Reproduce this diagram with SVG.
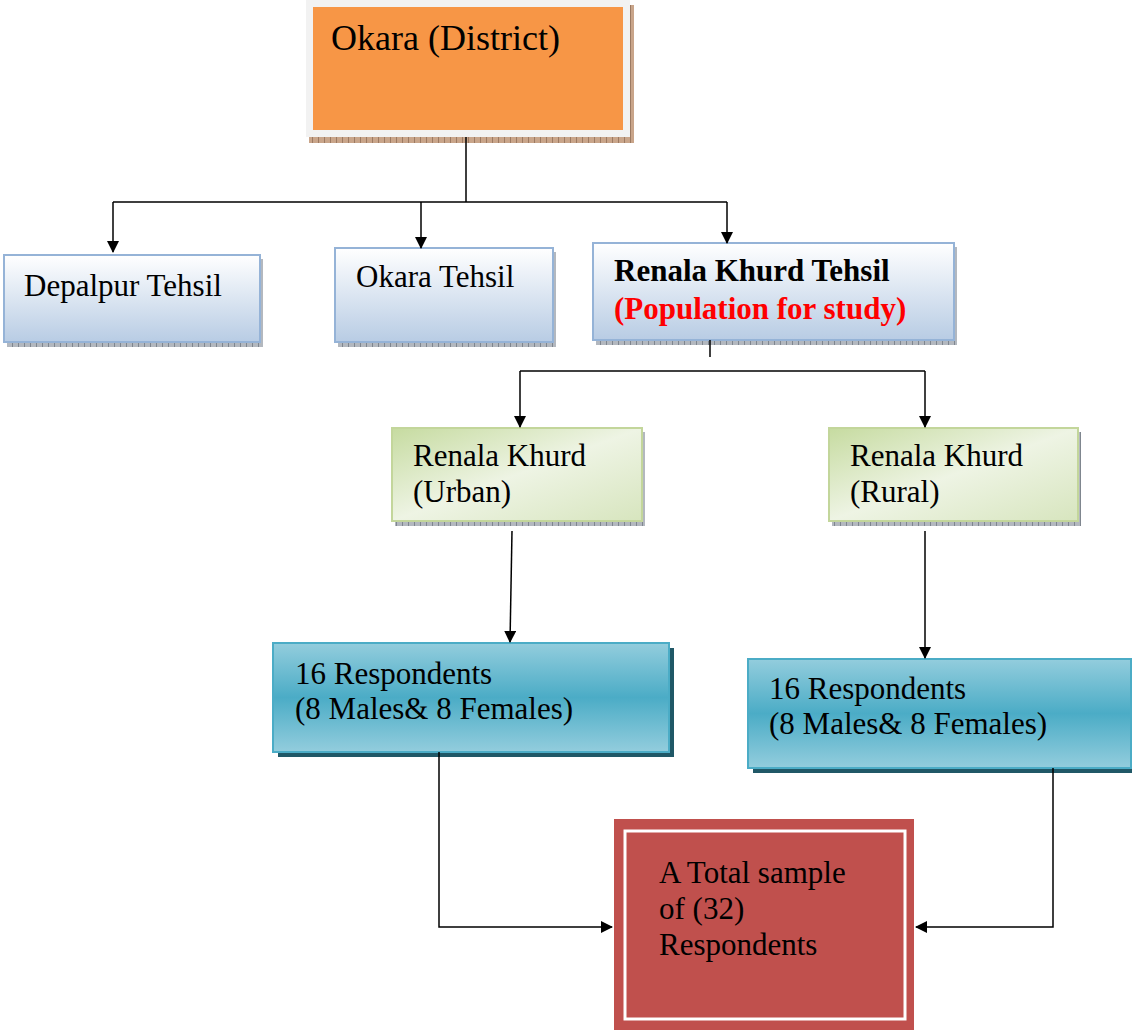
<svg xmlns="http://www.w3.org/2000/svg" width="1132" height="1032" viewBox="0 0 1132 1032">
<defs>
<linearGradient id="gBlue" x1="0" y1="0" x2="0" y2="1"><stop offset="0" stop-color="#ffffff"/><stop offset="1" stop-color="#b8cce4"/></linearGradient>
<linearGradient id="gGreen" x1="0" y1="0" x2="1" y2="1"><stop offset="0" stop-color="#c6dba0"/><stop offset="0.5" stop-color="#eef4e4"/><stop offset="1" stop-color="#d7e5be"/></linearGradient>
<linearGradient id="gTeal" x1="0" y1="0" x2="0" y2="1"><stop offset="0" stop-color="#93cddd"/><stop offset="0.5" stop-color="#4bacc6"/><stop offset="1" stop-color="#93cddd"/></linearGradient>
<pattern id="pShadow" width="6" height="6" patternUnits="userSpaceOnUse"><rect width="6" height="6" fill="#c9a58a"/><rect x="0" y="0" width="1" height="6" fill="#9c7a62"/></pattern>
<pattern id="pShadowB" width="6" height="6" patternUnits="userSpaceOnUse"><rect width="6" height="6" fill="#b3b8bf"/><rect x="0" y="0" width="1" height="6" fill="#7f868f"/></pattern>
<marker id="arr" markerWidth="12" markerHeight="12" refX="11" refY="6" orient="auto" markerUnits="userSpaceOnUse"><path d="M0,0 L12,6 L0,12 Z" fill="#000"/></marker>
</defs>
<style>
text{font-family:"Liberation Serif","Times New Roman",serif;font-size:31px;fill:#000}
.big{font-size:36px}
.b{font-weight:bold}
.red{fill:#ff0000}
.blue{fill:url(#gBlue);stroke:#95b3d7;stroke-width:2}
.green{fill:url(#gGreen);stroke:#c3d69b;stroke-width:2}
.teal{fill:url(#gTeal);stroke:#4bacc6;stroke-width:2}
.c{fill:none;stroke:#000;stroke-width:1.5}
</style>
<rect width="1132" height="1032" fill="#fff"/>
<g id="okara-district">
<rect x="309" y="5" width="325" height="138" fill="url(#pShadow)"/>
<rect x="306" y="0" width="324" height="137" fill="#f2f2f2"/>
<rect x="313" y="7" width="310" height="123" fill="#f79646"/>
<text x="331" y="50" class="big">Okara (District)</text>
</g>
<g id="depalpur">
<rect x="7" y="259" width="256" height="88" fill="url(#pShadowB)"/>
<rect x="4" y="255" width="256" height="87" class="blue"/>
<text x="24" y="296">Depalpur Tehsil</text>
</g>
<g id="okara-tehsil">
<rect x="338" y="252" width="218" height="95" fill="url(#pShadowB)"/>
<rect x="335" y="248" width="218" height="94" class="blue"/>
<text x="356" y="287">Okara Tehsil</text>
</g>
<g id="renala-tehsil">
<rect x="596" y="247" width="361" height="98" fill="url(#pShadowB)"/>
<rect x="593" y="243" width="361" height="97" class="blue"/>
<text x="614" y="281" class="b">Renala Khurd Tehsil</text>
<text x="614" y="319" class="b red">(Population for study)</text>
</g>
<g id="urban">
<rect x="395" y="432" width="250" height="94" fill="url(#pShadowB)"/>
<rect x="392" y="428" width="250" height="93" class="green"/>
<text x="413" y="466">Renala Khurd</text>
<text x="413" y="502">(Urban)</text>
</g>
<g id="rural">
<rect x="832" y="432" width="249" height="94" fill="url(#pShadowB)"/>
<rect x="829" y="428" width="249" height="93" class="green"/>
<text x="850" y="466">Renala Khurd</text>
<text x="850" y="502">(Rural)</text>
</g>
<g id="resp-urban">
<rect x="278" y="648" width="396" height="109" fill="#205867"/>
<rect x="273" y="643" width="396" height="109" class="teal"/>
<text x="295" y="684">16 Respondents</text>
<text x="295" y="719">(8 Males&amp; 8 Females)</text>
</g>
<g id="resp-rural">
<rect x="753" y="664" width="383" height="109" fill="#205867"/>
<rect x="748" y="659" width="383" height="109" class="teal"/>
<text x="769" y="699">16 Respondents</text>
<text x="769" y="734">(8 Males&amp; 8 Females)</text>
</g>
<g id="total">
<rect x="614" y="819" width="300" height="211" fill="#c0504d"/>
<rect x="625" y="831" width="280" height="188" fill="none" stroke="#fff" stroke-width="3"/>
<text x="659" y="883">A Total sample</text>
<text x="659" y="919">of (32)</text>
<text x="659" y="955">Respondents</text>
</g>
<g id="connectors">
<path class="c" d="M466,137 V202 M113,202 H727"/>
<path class="c" d="M113,202 V252" marker-end="url(#arr)"/>
<path class="c" d="M421,202 V248" marker-end="url(#arr)"/>
<path class="c" d="M727,202 V243" marker-end="url(#arr)"/>
<path class="c" d="M710,340 V357"/>
<path class="c" d="M520,371 H925"/>
<path class="c" d="M520,371 V427" marker-end="url(#arr)"/>
<path class="c" d="M925,371 V427" marker-end="url(#arr)"/>
<path class="c" d="M512,531 L510,642" marker-end="url(#arr)"/>
<path class="c" d="M925,531 V658" marker-end="url(#arr)"/>
<path class="c" d="M439,752 V927 H612" marker-end="url(#arr)"/>
<path class="c" d="M1053,768 V927 H916" marker-end="url(#arr)"/>
</g>
</svg>
